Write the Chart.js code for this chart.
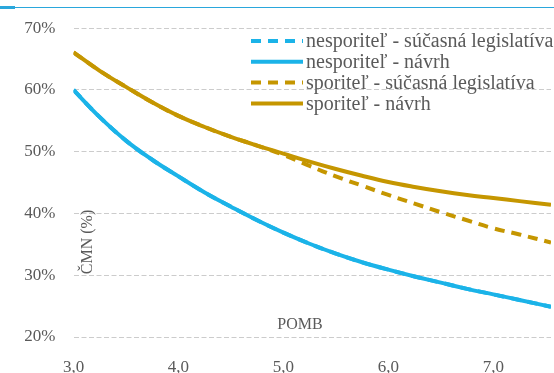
<!DOCTYPE html>
<html>
<head>
<meta charset="utf-8">
<script src="https://cdn.jsdelivr.net/npm/chart.js@4.4.1/dist/chart.umd.min.js"></script>
<style>
  html, body { margin: 0; padding: 0; background: #ffffff; }
  #wrap { width: 554px; height: 373px; position: relative; }
</style>
</head>
<body>
<div id="wrap"><canvas id="c" width="554" height="373"></canvas></div>
<script>
// POMB values on the horizontal axis
const pomb = [3.0, 3.25, 3.5, 3.75, 4.0, 4.25, 4.5, 4.75, 5.0, 5.25, 5.5, 5.75, 6.0, 6.25, 6.5, 6.75, 7.0, 7.25, 7.55];

// ČMN (%) per series
const nesporitelSucasna = [60.0, 55.6, 51.8, 48.7, 46.0, 43.4, 41.1, 38.9, 36.9, 35.1, 33.5, 32.1, 30.9, 29.8, 28.8, 27.8, 26.9, 26.0, 24.9];
const nesporitelNavrh   = [60.0, 55.6, 51.8, 48.7, 46.0, 43.4, 41.1, 38.9, 36.9, 35.1, 33.5, 32.1, 30.9, 29.8, 28.8, 27.8, 26.9, 26.0, 24.9];
const sporitelSucasna   = [66.1, 63.1, 60.5, 58.0, 55.8, 54.0, 52.4, 51.0, 49.5, 47.7, 46.0, 44.5, 43.0, 41.6, 40.2, 38.9, 37.6, 36.6, 35.3];
const sporitelNavrh     = [66.1, 63.1, 60.5, 58.0, 55.8, 54.0, 52.4, 51.0, 49.7, 48.4, 47.2, 46.1, 45.1, 44.3, 43.6, 43.0, 42.5, 42.0, 41.4];

const seriesLabels = [
  'nesporiteľ - súčasná legislatíva',
  'nesporiteľ - návrh',
  'sporiteľ - súčasná legislatíva',
  'sporiteľ - návrh'
];
const yTicks = [20, 30, 40, 50, 60, 70];
const xTicks = [3, 4, 5, 6, 7];
const yTitle = 'ČMN (%)';
const xTitle = 'POMB';

const BLUE = '#1bb3e8';
const GOLD = '#c59600';
const TEXT = '#5a5a5a';
const FONT = '"Liberation Serif", "DejaVu Serif", serif';

const toPoints = vals => vals.map((v, i) => ({ x: pomb[i], y: v }));

// thin rule across the top of the figure
const topRule = {
  id: 'topRule',
  beforeDraw(chart) {
    const ctx = chart.ctx;
    ctx.save();
    ctx.fillStyle = '#2aa7dc';
    ctx.fillRect(0, 7, chart.width, 1);
    ctx.fillRect(0, 6, 15, 3);
    ctx.restore();
  }
};

// in-plot axis captions
const captions = {
  id: 'captions',
  afterDatasetsDraw(chart) {
    const ctx = chart.ctx;
    ctx.save();
    ctx.fillStyle = TEXT;
    ctx.font = '16px ' + FONT;
    ctx.textAlign = 'center';
    ctx.textBaseline = 'middle';
    ctx.fillText(xTitle, 300, 325);
    ctx.translate(88, 242);
    ctx.rotate(-Math.PI / 2);
    ctx.fillText(yTitle, 0, 0);
    ctx.restore();
  }
};

// legend block in the upper right of the plot
const legendBlock = {
  id: 'legendBlock',
  afterDatasetsDraw(chart) {
    const ctx = chart.ctx;
    ctx.save();
    ctx.font = '20px ' + FONT;
    ctx.textBaseline = 'middle';
    ctx.textAlign = 'left';
    chart.data.datasets.forEach((ds, row) => {
      const y = 41 + row * 20.8;
      ctx.beginPath();
      ctx.strokeStyle = ds.borderColor;
      ctx.lineWidth = 4;
      ctx.setLineDash(ds.borderDash || []);
      ctx.moveTo(251, y);
      ctx.lineTo(303, y);
      ctx.stroke();
      ctx.setLineDash([]);
      ctx.fillStyle = TEXT;
      ctx.fillText(ds.label, 306, y + 1);
    });
    ctx.restore();
  }
};

new Chart(document.getElementById('c'), {
  type: 'line',
  data: {
    datasets: [
      { label: seriesLabels[0], data: toPoints(nesporitelSucasna), borderColor: BLUE, borderDash: [10, 7], order: 3 },
      { label: seriesLabels[1], data: toPoints(nesporitelNavrh), borderColor: BLUE, order: 2 },
      { label: seriesLabels[2], data: toPoints(sporitelSucasna), borderColor: GOLD, borderDash: [10, 7], order: 1 },
      { label: seriesLabels[3], data: toPoints(sporitelNavrh), borderColor: GOLD, order: 0 }
    ]
  },
  options: {
    responsive: false,
    animation: false,
    devicePixelRatio: 1,
    layout: { padding: { top: 24, right: 3, left: 0, bottom: 0 } },
    elements: {
      line: { borderWidth: 4, tension: 0.4, fill: false, borderCapStyle: 'butt' },
      point: { radius: 0 }
    },
    plugins: { legend: { display: false }, tooltip: { enabled: false } },
    scales: {
      x: {
        type: 'linear',
        min: 3,
        max: 7.55,
        afterBuildTicks(scale) { scale.ticks = xTicks.map(v => ({ value: v })); },
        afterFit(scale) { scale.height = 36; },
        grid: { display: false },
        border: { display: false },
        ticks: {
          color: TEXT,
          font: { family: FONT, size: 17 },
          padding: 12,
          maxRotation: 0,
          callback: v => v.toFixed(1).replace('.', ',')
        }
      },
      y: {
        min: 20,
        max: 70,
        afterBuildTicks(scale) { scale.ticks = yTicks.map(v => ({ value: v })); },
        afterFit(scale) { scale.width = 73.5; },
        grid: { color: '#cccccc', lineWidth: 1, drawTicks: false },
        border: { display: false, dash: [5, 2.5] },
        ticks: {
          color: TEXT,
          font: { family: FONT, size: 17 },
          padding: 18,
          callback: v => v + '%'
        }
      }
    }
  },
  plugins: [topRule, captions, legendBlock]
});
</script>
</body>
</html>
